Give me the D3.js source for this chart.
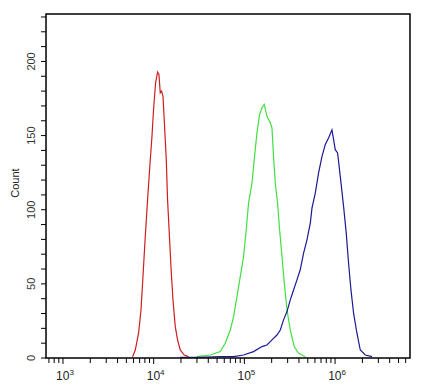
<!DOCTYPE html>
<html>
<head>
<meta charset="utf-8">
<script src="https://cdn.jsdelivr.net/npm/d3@7"></script>
<style>
  body { margin: 0; background: #fff; }
  svg text { font-family: "Liberation Sans", Arial, sans-serif; }
</style>
</head>
<body>
<svg id="chart" width="427" height="390"></svg>
<script>
// Flow cytometry histogram overlay
const redSeries = [
  [5850, 0.9], [6270, 5.4], [6820, 16.9], [7250, 32.4], [7620, 55], [8080, 82],
  [8570, 106.8], [9010, 127], [9580, 149.5], [9970, 167.6], [10500, 185.6],
  [11040, 192.8], [11430, 191.2], [11820, 178.8], [12220, 180], [12670, 176.6],
  [13190, 156.3], [13770, 133.8], [14230, 106.8], [14850, 84.5], [15510, 61.7],
  [16320, 39.2], [17300, 21.2], [18340, 12.2], [19630, 5.4], [21730, 2], [24240, 0.9]
];
const greenSeries = [
  [30000, 0.9], [42070, 2], [54200, 4.3], [61500, 9.9], [69950, 18.9], [76060, 27.9],
  [82850, 41.4], [90100, 54.9], [97960, 68.4], [104900, 86.5], [111200, 104.5],
  [121300, 118], [129500, 136], [137600, 151.8], [147100, 164.2], [156300, 168.7],
  [165600, 171], [177400, 163], [193000, 158.6], [201400, 155.2], [209800, 136],
  [219100, 118], [232400, 104.5], [244500, 86.5], [260000, 68.4], [275500, 50.5],
  [295100, 32.4], [320700, 18.9], [354900, 7.6], [396200, 3.2], [469000, 0.9]
];
const blueSeries = [
  [19630, 0.5], [32650, 0.5], [54200, 0.9], [76060, 0.9], [97960, 2], [126200, 4.3],
  [156300, 7.7], [177400, 8.8], [201400, 12.2], [228600, 15.5], [248900, 18.9],
  [270400, 25.7], [295100, 31.3], [320700, 39.2], [348500, 45.9], [380100, 52.7],
  [413000, 59.5], [449700, 70.7], [489800, 79.7], [533200, 91], [556300, 101.1],
  [605100, 111.2], [658000, 124.8], [717400, 136], [780200, 144], [847800, 148.4],
  [924000, 153.9], [1005000, 140.5], [1066000, 138.3], [1141000, 122.5],
  [1241000, 102.3], [1328000, 84.2], [1409000, 63.9], [1497000, 45.9],
  [1600000, 30.2], [1742000, 16.7], [1897000, 5.4], [2153000, 2], [2552000, 0.9]
];
const seriesColors = ['#cc1f1f', '#3fe03f', '#1a1a96'];
const yTickValues = [0, 50, 100, 150, 200];
const xDecades = [3, 4, 5, 6];

const svg = d3.select('#chart');
const margin = { left: 46, top: 14, right: 17, bottom: 32 };
const width = 427 - margin.left - margin.right;
const height = 390 - margin.top - margin.bottom;

const g = svg.append('g').attr('transform', `translate(${margin.left},${margin.top})`);

const x = d3.scaleLog().domain([650, 6.7e6]).range([0, width]);
const y = d3.scaleLinear().domain([0, 232]).range([height, 0]);

// Y axis ticks (minor every 10)
const yAxis = g.append('g');
yAxis.selectAll('line.minor')
  .data(d3.range(0, 231, 10))
  .enter().append('line')
  .attr('x1', -5).attr('x2', 0)
  .attr('y1', d => y(d)).attr('y2', d => y(d))
  .attr('stroke', '#000').attr('stroke-width', 1);
yAxis.selectAll('text')
  .data(yTickValues)
  .enter().append('text')
  .attr('transform', d => `translate(-11,${y(d)}) rotate(-90)`)
  .attr('text-anchor', 'middle')
  .attr('font-size', '11px')
  .attr('fill', '#333')
  .text(d => d);

svg.append('text')
  .attr('transform', `translate(19,${margin.top + y(118)}) rotate(-90)`)
  .attr('text-anchor', 'middle')
  .attr('font-size', '11px')
  .attr('fill', '#222')
  .text('Count');

// X axis ticks (log minor ticks)
const xTicks = x.ticks().filter(d => x(d) >= 0 && x(d) <= width);
const xAxis = g.append('g').attr('transform', `translate(0,${height})`);
xAxis.selectAll('line')
  .data(xTicks)
  .enter().append('line')
  .attr('x1', d => x(d)).attr('x2', d => x(d))
  .attr('y1', 0)
  .attr('y2', d => Number.isInteger(Math.log10(d)) ? 6 : 5)
  .attr('stroke', '#000').attr('stroke-width', 1);

const xLabels = xAxis.selectAll('text')
  .data(xDecades)
  .enter().append('text')
  .attr('x', d => x(Math.pow(10, d)) + 2)
  .attr('y', 22)
  .attr('text-anchor', 'middle')
  .attr('font-size', '12px')
  .attr('fill', '#222');
xLabels.append('tspan').text('10');
xLabels.append('tspan')
  .attr('dy', -5)
  .attr('font-size', '8px')
  .text(d => d);

// Histograms
const line = d3.line()
  .x(d => x(d[0]))
  .y(d => y(d[1]));

[redSeries, greenSeries, blueSeries].forEach((s, i) => {
  g.append('path')
    .datum(s)
    .attr('fill', 'none')
    .attr('stroke', seriesColors[i])
    .attr('stroke-width', 1.2)
    .attr('d', line);
});

// Frame
g.append('rect')
  .attr('x', 0).attr('y', 0)
  .attr('width', width).attr('height', height)
  .attr('fill', 'none')
  .attr('stroke', '#000')
  .attr('stroke-width', 1.5);
</script>
</body>
</html>
